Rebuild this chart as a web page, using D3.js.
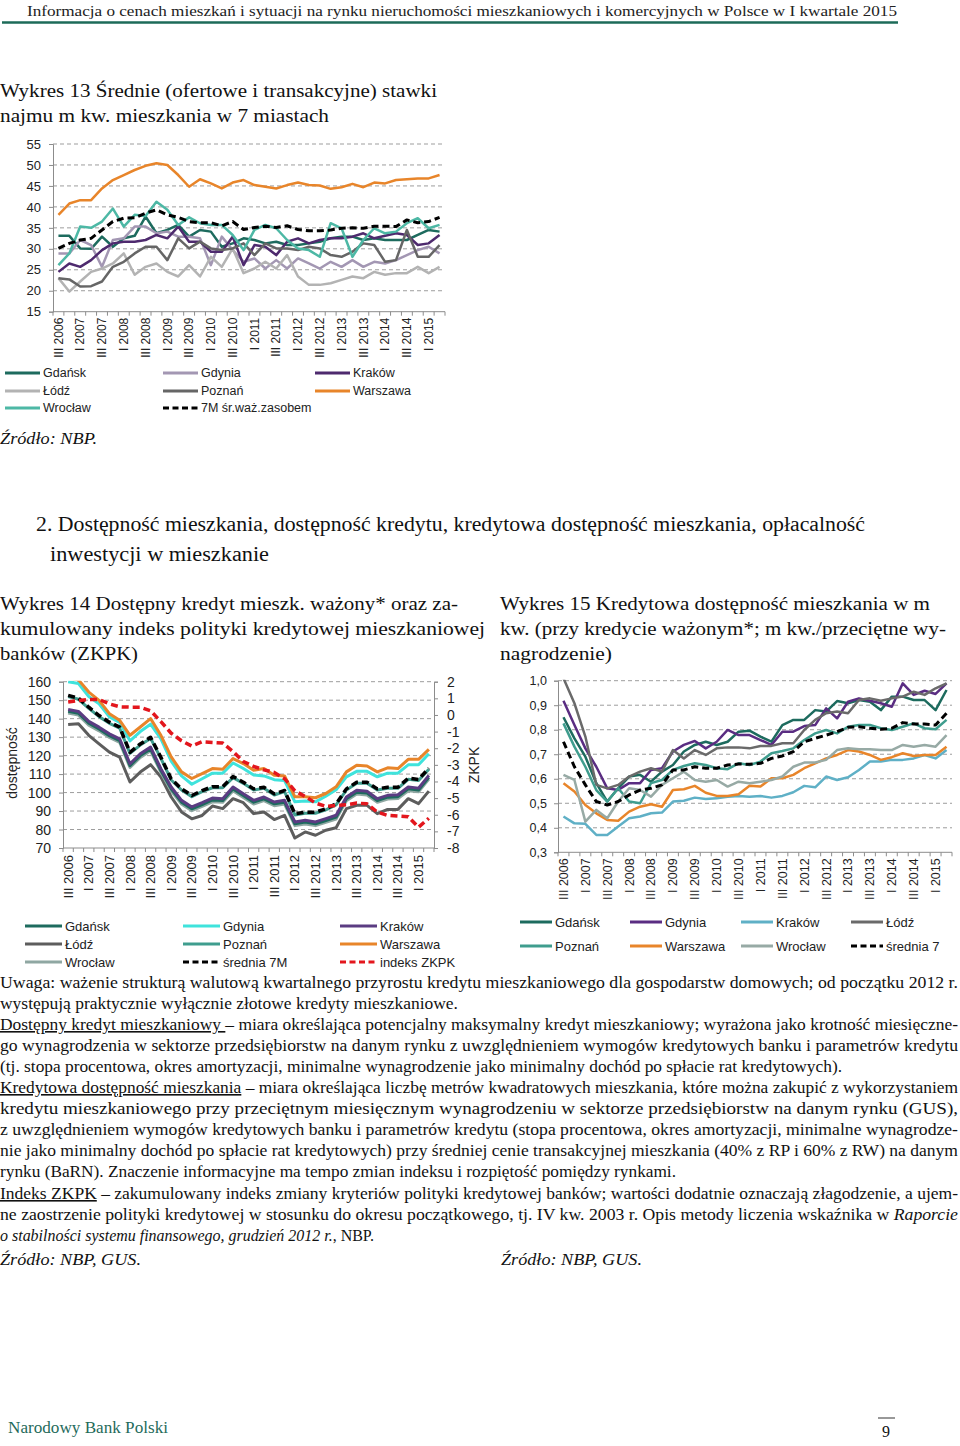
<!DOCTYPE html>
<html lang="pl">
<head>
<meta charset="utf-8">
<title>Wykresy 13-15</title>
<script src="https://cdn.jsdelivr.net/npm/d3@7"></script>
<style>
body { margin: 0; background: #fff; }
svg { display: block; }
</style>
</head>
<body>
<script>
// kwartaly III 2006 - II 2015
const quarters = ["III 2006","IV 2006","I 2007","II 2007","III 2007","IV 2007","I 2008","II 2008",
  "III 2008","IV 2008","I 2009","II 2009","III 2009","IV 2009","I 2010","II 2010","III 2010","IV 2010",
  "I 2011","II 2011","III 2011","IV 2011","I 2012","II 2012","III 2012","IV 2012","I 2013","II 2013",
  "III 2013","IV 2013","I 2014","II 2014","III 2014","IV 2014","I 2015","II 2015"];

// Wykres 13 - stawki najmu (zl/m kw.)
const gdansk13 = [33.1,33.1,30.1,30.0,32.9,30.5,32.5,33.1,37.7,33.7,34.5,35.7,32.9,34.5,34.1,30.5,31.3,32.5,32.1,31.3,31.7,30.9,30.9,31.3,31.7,32.5,32.9,32.9,32.1,32.5,32.1,32.1,32.1,33.3,34.5,34.1];
const gdynia13 = [28.9,28.9,32.1,30.9,25.7,32.1,32.5,35.3,35.3,33.7,34.1,32.9,32.9,32.5,26.1,32.9,29.7,26.9,27.7,25.3,27.3,25.3,27.7,26.5,25.3,26.9,25.7,27.3,25.7,26.9,26.5,27.3,28.5,29.7,30.5,28.9];
const krakow13 = [24.5,26.5,25.7,27.3,29.7,31.3,31.7,31.7,32.1,33.3,32.5,35.3,31.7,31.7,29.3,29.3,32.9,26.1,30.9,30.5,28.5,31.7,32.5,31.3,32.1,32.5,32.5,32.9,33.7,32.5,33.1,33.7,33.3,30.9,31.3,33.3];
const lodz13 = [23.0,19.8,22.2,24.5,25.3,26.5,28.9,23.8,25.7,26.5,24.5,23.4,26.1,23.4,28.1,25.7,30.1,24.2,25.3,26.9,25.3,28.5,23.4,21.4,21.4,21.8,22.6,23.4,23.0,24.5,23.8,24.2,24.2,25.7,24.2,25.7];
const poznan13 = [23.0,22.7,21.0,21.1,22.2,25.7,26.9,28.9,30.5,30.5,27.3,32.5,30.1,31.7,30.1,29.7,30.1,31.3,28.5,31.3,30.1,30.1,29.7,30.5,30.1,28.5,28.1,29.3,31.3,30.9,26.9,27.3,34.5,28.1,28.1,30.9];
const warszawa13 = [38.1,40.8,41.6,41.6,44.4,46.4,47.6,48.8,49.8,50.4,50.0,47.6,44.8,46.6,45.6,44.4,45.8,46.4,45.2,44.8,44.4,45.2,45.8,45.2,45.1,44.3,44.7,45.5,44.7,45.8,45.6,46.4,46.6,46.8,46.8,47.6];
const wroclaw13 = [26.1,28.9,35.3,35.0,36.5,39.6,35.3,38.1,37.8,41.2,39.3,35.7,37.5,36.1,35.7,35.7,33.3,29.7,34.5,35.7,34.9,32.1,30.1,29.7,28.1,36.1,34.9,28.1,32.1,34.9,33.7,34.1,36.1,37.3,34.9,35.7];
const avg13 = [30.1,31.3,32.1,32.5,34.5,36.5,37.3,37.4,38.5,39.3,38.1,37.5,36.5,36.2,36.2,35.5,36.5,34.6,35.1,35.4,35.1,35.5,34.6,34.3,34.3,34.5,34.9,35.0,34.9,35.4,35.4,35.3,36.9,36.2,36.5,37.5];
const ticks13 = [15,20,25,30,35,40,45,50,55];

// Wykres 14 - dostepny kredyt (lewa os) i indeks ZKPK (prawa os)
const gdansk14 = [144.0,142.9,137.5,134.4,130.8,128.1,114.6,120.0,123.6,111.9,102.0,94.8,91.2,93.5,96.0,95.7,102.0,98.4,94.8,96.6,93.9,94.8,83.1,84.0,83.1,84.9,86.7,96.6,100.2,99.7,95.7,97.5,97.8,102.0,101.4,108.3];
const gdynia14 = [160,159,152,148,141,138,128,133,137,129,117,109,104.5,107.5,110.5,110.5,116,113,109.5,109,107,106.5,95,95.5,95,98,101.5,108.5,111.5,111.5,108.5,110.5,110.5,115,115,121];
const krakow14 = [145.0,143.9,138.5,135.4,131.8,129.1,115.6,121.0,124.6,112.9,103.0,95.8,92.2,94.5,97.0,96.7,103.0,99.4,95.8,97.6,94.9,95.8,84.1,85.0,84.1,85.9,87.7,97.6,101.2,100.7,96.7,98.5,98.8,103.0,102.4,109.3];
const lodz14 = [136.9,137.3,131.0,126.4,121.9,119.2,105.7,111.1,115.1,108.4,97.6,89.5,85.8,87.6,92.7,91.3,96.7,94.5,88.6,89.5,85.4,87.7,75.4,78.7,76.9,79.6,81.0,91.3,93.1,93.1,88.6,90.9,90.9,96.7,94.0,100.8];
const poznan14 = [152.0,150.5,145.6,141.1,137.5,134.8,121.2,125.7,129.3,118.5,106.8,101.4,97.8,100.5,102.6,102.6,108.1,105.0,101.4,102.3,98.7,100.5,87.9,88.8,88.8,90.6,93.3,101.4,105.0,105.0,101.4,102.3,102.3,107.2,106.5,112.6];
const warszawa14 = [162,161,154.4,149.9,142.7,139.1,131.0,135.5,140.0,131.0,119.3,111.2,107.6,110.3,113.0,112.6,118.4,115.7,112.1,113.0,109.4,109.0,97.7,97.7,97.2,99.5,103.1,111.2,114.8,114.4,111.2,113.4,113.0,118.0,118.0,123.4];
const wroclaw14 = [143.0,141.9,136.5,133.4,129.8,127.1,113.6,119.0,122.6,110.9,101.0,93.8,90.2,92.5,95.0,94.7,101.0,97.4,93.8,95.6,92.9,93.8,82.1,83.0,82.1,83.9,85.7,95.6,99.2,98.7,94.7,96.5,96.8,101.0,100.4,107.3];
const avg14 = [152.6,151.1,146.2,141.7,138.1,135.4,121.8,126.3,129.9,119.1,107.4,102.0,98.4,101.1,103.2,103.2,108.7,105.6,102.0,102.9,99.3,101.1,88.5,89.4,89.4,91.2,93.9,102.0,105.6,105.6,102.0,102.9,102.9,107.8,107.1,113.2];
const zkpk = [0.78,0.87,0.93,0.93,0.67,0.49,0.47,0.47,0.25,-0.4,-1.1,-1.55,-1.87,-1.61,-1.65,-1.69,-2.2,-2.8,-3.1,-3.3,-3.46,-3.83,-4.57,-4.9,-5.3,-5.5,-5.44,-5.4,-5.3,-5.34,-5.84,-6.04,-6.08,-6.12,-6.75,-6.21];
const ticks14 = [70,80,90,100,110,120,130,140,150,160];
const ticks14r = [-8,-7,-6,-5,-4,-3,-2,-1,0,1,2];

// Wykres 15 - kredytowa dostepnosc mieszkania (m kw.)
const gdansk15 = [0.851,0.765,0.690,0.582,0.507,0.561,0.609,0.616,0.588,0.629,0.656,0.711,0.738,0.751,0.738,0.751,0.792,0.796,0.772,0.751,0.819,0.840,0.840,0.880,0.874,0.917,0.908,0.921,0.914,0.880,0.935,0.935,0.921,0.921,0.880,0.962];
const gdynia15 = [0.918,0.819,0.724,0.649,0.561,0.554,0.582,0.582,0.636,0.643,0.711,0.738,0.754,0.724,0.751,0.799,0.778,0.778,0.758,0.738,0.792,0.792,0.815,0.819,0.887,0.846,0.914,0.928,0.918,0.908,0.894,0.989,0.942,0.959,0.946,0.989];
const krakow15 = [0.446,0.418,0.416,0.371,0.371,0.405,0.439,0.446,0.459,0.462,0.507,0.510,0.523,0.517,0.520,0.527,0.530,0.527,0.530,0.523,0.530,0.545,0.571,0.565,0.609,0.595,0.606,0.636,0.670,0.670,0.677,0.677,0.683,0.697,0.683,0.717];
const lodz15 = [1.01,0.908,0.772,0.575,0.561,0.575,0.609,0.629,0.643,0.629,0.717,0.683,0.717,0.697,0.724,0.728,0.728,0.724,0.734,0.734,0.745,0.745,0.799,0.840,0.867,0.874,0.867,0.921,0.928,0.918,0.928,0.935,0.955,0.942,0.969,0.989];
const poznan15 = [0.826,0.731,0.649,0.554,0.507,0.561,0.507,0.500,0.582,0.595,0.636,0.652,0.663,0.656,0.643,0.639,0.663,0.656,0.670,0.704,0.713,0.724,0.758,0.785,0.799,0.785,0.812,0.819,0.819,0.806,0.799,0.812,0.826,0.806,0.802,0.840];
const warszawa15 = [0.582,0.548,0.493,0.459,0.432,0.429,0.466,0.486,0.496,0.486,0.554,0.557,0.571,0.543,0.530,0.530,0.537,0.571,0.568,0.602,0.602,0.616,0.643,0.663,0.683,0.697,0.717,0.711,0.697,0.677,0.688,0.704,0.693,0.697,0.697,0.731];
const wroclaw15 = [0.616,0.595,0.425,0.473,0.439,0.507,0.561,0.554,0.527,0.575,0.602,0.629,0.595,0.588,0.595,0.568,0.588,0.582,0.588,0.595,0.609,0.649,0.666,0.666,0.677,0.717,0.724,0.720,0.720,0.717,0.717,0.738,0.731,0.738,0.731,0.778];
const avg15 = [0.751,0.649,0.575,0.507,0.493,0.507,0.534,0.554,0.561,0.575,0.636,0.636,0.649,0.643,0.643,0.656,0.660,0.659,0.663,0.683,0.693,0.711,0.751,0.765,0.778,0.792,0.810,0.812,0.806,0.802,0.806,0.829,0.823,0.823,0.819,0.867];
const ticks15 = [0.3,0.4,0.5,0.6,0.7,0.8,0.9,1.0];

const SERIF = '"Liberation Serif", "DejaVu Serif", serif';
const SANS = '"Liberation Sans", Arial, sans-serif';
const NARROW = '"Liberation Sans Narrow", "Arial Narrow", "Liberation Sans", sans-serif';
const DASH = "7,4";

const svg = d3.select("body").append("svg")
    .attr("width", 960)
    .attr("height", 1446);

// naglowek strony
svg.append("text")
    .attr("x", 27).attr("y", 16)
    .attr("font-family", SERIF).attr("font-size", 15.5).attr("fill", "#222")
    .attr("textLength", 870).attr("lengthAdjust", "spacingAndGlyphs")
    .text("Informacja o cenach mieszkań i sytuacji na rynku nieruchomości mieszkaniowych i komercyjnych w Polsce w I kwartale 2015");
svg.append("line")
    .attr("x1", 2).attr("x2", 898).attr("y1", 22.5).attr("y2", 22.5)
    .attr("stroke", "#1d6b59").attr("stroke-width", 2.5);

function serifText(x, y, str, w, size, opts = {}) {
    const t = svg.append("text")
        .attr("x", x).attr("y", y)
        .attr("font-family", SERIF).attr("font-size", size).attr("fill", "#111")
        .attr("font-style", opts.italic ? "italic" : null)
        .text(str);
    if (w) t.attr("textLength", w).attr("lengthAdjust", "spacingAndGlyphs");
    return t;
}

serifText(0, 97, "Wykres 13 Średnie (ofertowe i transakcyjne) stawki", 437, 19);
serifText(0, 122, "najmu m kw. mieszkania w 7 miastach", 329, 19);
serifText(0, 444, "Źródło: NBP.", 97, 17, {italic: true});
serifText(36, 531, "2. Dostępność mieszkania, dostępność kredytu, kredytowa dostępność mieszkania, opłacalność", 829, 20);
serifText(50, 561, "inwestycji w mieszkanie", 219, 20);
serifText(0, 610, "Wykres 14 Dostępny kredyt mieszk. ważony* oraz za-", 458, 19);
serifText(0, 635, "kumulowany indeks polityki kredytowej mieszkaniowej", 485, 19);
serifText(0, 660, "banków (ZKPK)", 138, 19);
serifText(500, 610, "Wykres 15 Kredytowa dostępność mieszkania w m", 430, 19);
serifText(500, 635, "kw. (przy kredycie ważonym*; m kw./przeciętne wy-", 446, 19);
serifText(500, 660, "nagrodzenie)", 112, 19);

// wspolny rysunek wykresu liniowego
function drawChart(o) {
    const g = svg.append("g");
    const x = d3.scaleBand().domain(quarters).range([o.x0, o.x1]);
    const cx = i => x(quarters[i]) + x.bandwidth() / 2;
    const y = d3.scaleLinear().domain(o.yDomain).range([o.yBottom, o.yTop]);

    g.append("g").selectAll("line")
        .data(o.yTicks.slice(1))
        .join("line")
        .attr("x1", o.x0).attr("x2", o.x1)
        .attr("y1", d => y(d)).attr("y2", d => y(d))
        .attr("stroke", "#9d9d9d").attr("stroke-dasharray", "4,3");

    const ax = g.append("g")
        .attr("transform", `translate(${o.x0},0)`)
        .call(d3.axisLeft(y).tickValues(o.yTicks).tickSize(4).tickPadding(o.pad).tickFormat(o.fmt));
    ax.attr("font-family", SANS).attr("font-size", o.fs);
    ax.select(".domain").attr("stroke", "#8c8c8c");
    ax.selectAll(".tick line").attr("stroke", "#8c8c8c");
    ax.selectAll(".tick text").attr("fill", "#222");

    // os kategorii
    g.append("line")
        .attr("x1", o.x0).attr("x2", o.x1)
        .attr("y1", o.yBottom).attr("y2", o.yBottom)
        .attr("stroke", "#8c8c8c");
    g.append("g").selectAll("line")
        .data(quarters.concat(["end"]))
        .join("line")
        .attr("x1", (d, i) => o.x0 + i * x.step()).attr("x2", (d, i) => o.x0 + i * x.step())
        .attr("y1", o.yBottom).attr("y2", o.yBottom + 4)
        .attr("stroke", "#8c8c8c");
    g.append("g").selectAll("text")
        .data(quarters.filter(q => /^(I|III) /.test(q)))
        .join("text")
        .attr("transform", q => `translate(${x(q) + x.bandwidth() / 2},${o.yBottom + o.lblOff}) rotate(-90)`)
        .attr("text-anchor", "end").attr("dy", "0.35em")
        .attr("font-family", SANS).attr("font-size", o.xfs).attr("fill", "#222")
        .text(q => q);

    const clipId = "clip" + o.id;
    svg.append("clipPath").attr("id", clipId)
        .append("rect")
        .attr("x", o.x0).attr("y", o.yTop - 1)
        .attr("width", o.x1 - o.x0).attr("height", o.yBottom - o.yTop + 1);

    o.series.forEach(s => {
        const ys = s.scale || y;
        g.append("path")
            .datum(s.values)
            .attr("clip-path", `url(#${clipId})`)
            .attr("fill", "none")
            .attr("stroke", s.color)
            .attr("stroke-width", s.dash ? o.sw + 0.5 : o.sw)
            .attr("stroke-dasharray", s.dash ? DASH : null)
            .attr("stroke-linejoin", "round")
            .attr("d", d3.line().x((d, i) => cx(i)).y(d => ys(d)));
    });
    return {x, y};
}

function legend(items, cols, rows, len, font, fs) {
    items.forEach((it, k) => {
        const lx = cols[k % cols.length];
        const ly = rows[Math.floor(k / cols.length)];
        svg.append("line")
            .attr("x1", lx).attr("x2", lx + len)
            .attr("y1", ly).attr("y2", ly)
            .attr("stroke", it.color).attr("stroke-width", 3)
            .attr("stroke-dasharray", it.dash ? "6,3.5" : null);
        svg.append("text")
            .attr("x", lx + len + 3).attr("y", ly).attr("dy", "0.35em")
            .attr("font-family", font).attr("font-size", fs).attr("fill", "#222")
            .text(it.name);
    });
}

// ---- Wykres 13
const series13 = [
    {name: "Gdańsk", color: "#1d6b5e", values: gdansk13},
    {name: "Gdynia", color: "#a397b3", values: gdynia13},
    {name: "Kraków", color: "#4e2a6e", values: krakow13},
    {name: "Łódź", color: "#b3b3b3", values: lodz13},
    {name: "Poznań", color: "#666666", values: poznan13},
    {name: "Warszawa", color: "#e8852a", values: warszawa13},
    {name: "Wrocław", color: "#4db8a5", values: wroclaw13},
    {name: "7M śr.waż.zasobem", color: "#000", dash: true, values: avg13}
];
drawChart({id: 13, x0: 53, x1: 445, yTop: 144, yBottom: 311.7, yDomain: [15, 55], yTicks: ticks13,
    fmt: d3.format("d"), pad: 8, fs: 13, xfs: 12, lblOff: 6, sw: 2.5, series: series13});
legend(series13, [5, 163, 315], [373, 391, 408], 35, SANS, 12.5);

// ---- Wykres 14
const yR14 = d3.scaleLinear().domain([-8, 2]).range([848, 681.7]);
const series14 = [
    {name: "Łódź", color: "#5d5d5d", values: lodz14},
    {name: "Wrocław", color: "#8fa7a2", values: wroclaw14},
    {name: "Gdańsk", color: "#1d6b5e", values: gdansk14},
    {name: "Kraków", color: "#5b3c82", values: krakow14},
    {name: "Poznań", color: "#3f9d8e", values: poznan14},
    {name: "Gdynia", color: "#3fe3dc", values: gdynia14},
    {name: "Warszawa", color: "#e8852a", values: warszawa14},
    {name: "średnia 7M", color: "#000", dash: true, values: avg14},
    {name: "indeks ZKPK", color: "#e3161d", dash: true, values: zkpk, scale: yR14}
];
drawChart({id: 14, x0: 63, x1: 434, yTop: 681.7, yBottom: 848, yDomain: [70, 160], yTicks: ticks14,
    fmt: d3.format("d"), pad: 8, fs: 14, xfs: 13, lblOff: 7, sw: 3, series: series14});
const axR = svg.append("g")
    .attr("transform", "translate(434,0)")
    .call(d3.axisRight(yR14).tickValues(ticks14r).tickSize(4).tickPadding(9).tickFormat(d => String(d)));
axR.attr("font-family", SANS).attr("font-size", 14);
axR.select(".domain").attr("stroke", "#8c8c8c");
axR.selectAll(".tick line").attr("stroke", "#8c8c8c");
axR.selectAll(".tick text").attr("fill", "#222");
svg.append("text")
    .attr("transform", "translate(17,763) rotate(-90)")
    .attr("text-anchor", "middle")
    .attr("font-family", SANS).attr("font-size", 14).attr("fill", "#222")
    .text("dostępność");
svg.append("text")
    .attr("transform", "translate(479,765) rotate(-90)")
    .attr("text-anchor", "middle")
    .attr("font-family", SANS).attr("font-size", 14).attr("fill", "#222")
    .text("ZKPK");
const legend14 = ["Gdańsk", "Gdynia", "Kraków", "Łódź", "Poznań", "Warszawa", "Wrocław", "średnia 7M", "indeks ZKPK"]
    .map(n => series14.find(s => s.name === n));
legend(legend14, [25, 183, 340], [926, 944, 962], 37, NARROW, 13);

// ---- Wykres 15
const series15 = [
    {name: "Gdańsk", color: "#1d6b5e", values: gdansk15},
    {name: "Gdynia", color: "#5a2d82", values: gdynia15},
    {name: "Kraków", color: "#5fb0c6", values: krakow15},
    {name: "Łódź", color: "#6a6a6a", values: lodz15},
    {name: "Poznań", color: "#3f9d8e", values: poznan15},
    {name: "Warszawa", color: "#e8852a", values: warszawa15},
    {name: "Wrocław", color: "#97aaa5", values: wroclaw15},
    {name: "średnia 7", color: "#000", dash: true, values: avg15}
];
drawChart({id: 15, x0: 558, x1: 952, yTop: 680.7, yBottom: 852.3, yDomain: [0.3, 1.0], yTicks: ticks15,
    fmt: d => d3.format(".1f")(d).replace(".", ","), pad: 7, fs: 12.5, xfs: 12.5, lblOff: 6, sw: 2.5, series: series15});
legend(series15, [520, 630, 741, 851], [922, 946], 32, NARROW, 13);

// ---- objasnienia pod wykresami
const notes = [
    {y: 988, w: 958, parts: [{t: "Uwaga: ważenie strukturą walutową kwartalnego przyrostu kredytu mieszkaniowego dla gospodarstw domowych; od początku 2012 r."}]},
    {y: 1009, w: 458, parts: [{t: "występują praktycznie wyłącznie złotowe kredyty mieszkaniowe."}]},
    {y: 1030, w: 958, parts: [{t: "Dostępny kredyt mieszkaniowy ", u: true}, {t: "– miara określająca potencjalny maksymalny kredyt mieszkaniowy; wyrażona jako krotność miesięczne-"}]},
    {y: 1051, w: 958, parts: [{t: "go wynagrodzenia w sektorze przedsiębiorstw na danym rynku z uwzględnieniem wymogów kredytowych banku i parametrów kredytu"}]},
    {y: 1072, w: 842, parts: [{t: "(tj. stopa procentowa, okres amortyzacji, minimalne wynagrodzenie jako minimalny dochód po spłacie rat kredytowych)."}]},
    {y: 1093, w: 958, parts: [{t: "Kredytowa dostępność mieszkania", u: true}, {t: " – miara określająca liczbę metrów kwadratowych mieszkania, które można zakupić z wykorzystaniem"}]},
    {y: 1114, w: 958, parts: [{t: "kredytu mieszkaniowego przy przeciętnym miesięcznym wynagrodzeniu w sektorze przedsiębiorstw na danym rynku (GUS),"}]},
    {y: 1135, w: 958, parts: [{t: "z uwzględnieniem wymogów kredytowych banku i parametrów kredytu (stopa procentowa, okres amortyzacji, minimalne wynagrodze-"}]},
    {y: 1156, w: 958, parts: [{t: "nie jako minimalny dochód po spłacie rat kredytowych) przy średniej cenie transakcyjnej mieszkania (40% z RP i 60% z RW) na danym"}]},
    {y: 1177, w: 676, parts: [{t: "rynku (BaRN). Znaczenie informacyjne ma tempo zmian indeksu i rozpiętość pomiędzy rynkami."}]},
    {y: 1199, w: 958, parts: [{t: "Indeks ZKPK", u: true}, {t: " – zakumulowany indeks zmiany kryteriów polityki kredytowej banków; wartości dodatnie oznaczają złagodzenie, a ujem-"}]},
    {y: 1220, w: 958, parts: [{t: "ne zaostrzenie polityki kredytowej w stosunku do okresu początkowego, tj. IV kw. 2003 r. Opis metody liczenia wskaźnika w "}, {t: "Raporcie", i: true}]},
    {y: 1241, w: 374, parts: [{t: "o stabilności systemu finansowego, grudzień 2012 r.", i: true}, {t: ", NBP."}]}
];
notes.forEach(n => {
    const t = svg.append("text")
        .attr("x", 0).attr("y", n.y)
        .attr("font-family", SERIF).attr("font-size", 16).attr("fill", "#111")
        .attr("textLength", n.w).attr("lengthAdjust", "spacingAndGlyphs");
    n.parts.forEach(p => {
        t.append("tspan")
            .attr("font-style", p.i ? "italic" : null)
            .style("text-decoration", p.u ? "underline" : null)
            .text(p.t);
    });
});
serifText(0, 1265, "Źródło: NBP, GUS.", 141, 17, {italic: true});
serifText(501, 1265, "Źródło: NBP, GUS.", 141, 17, {italic: true});

// stopka
svg.append("text")
    .attr("x", 8).attr("y", 1433)
    .attr("font-family", SERIF).attr("font-size", 16).attr("fill", "#1f6b5b")
    .attr("textLength", 160).attr("lengthAdjust", "spacingAndGlyphs")
    .text("Narodowy Bank Polski");
svg.append("line")
    .attr("x1", 878).attr("x2", 895).attr("y1", 1418).attr("y2", 1418)
    .attr("stroke", "#333").attr("stroke-width", 1);
svg.append("text")
    .attr("x", 886).attr("y", 1437).attr("text-anchor", "middle")
    .attr("font-family", SERIF).attr("font-size", 16).attr("fill", "#111")
    .text("9");
</script>
</body>
</html>
